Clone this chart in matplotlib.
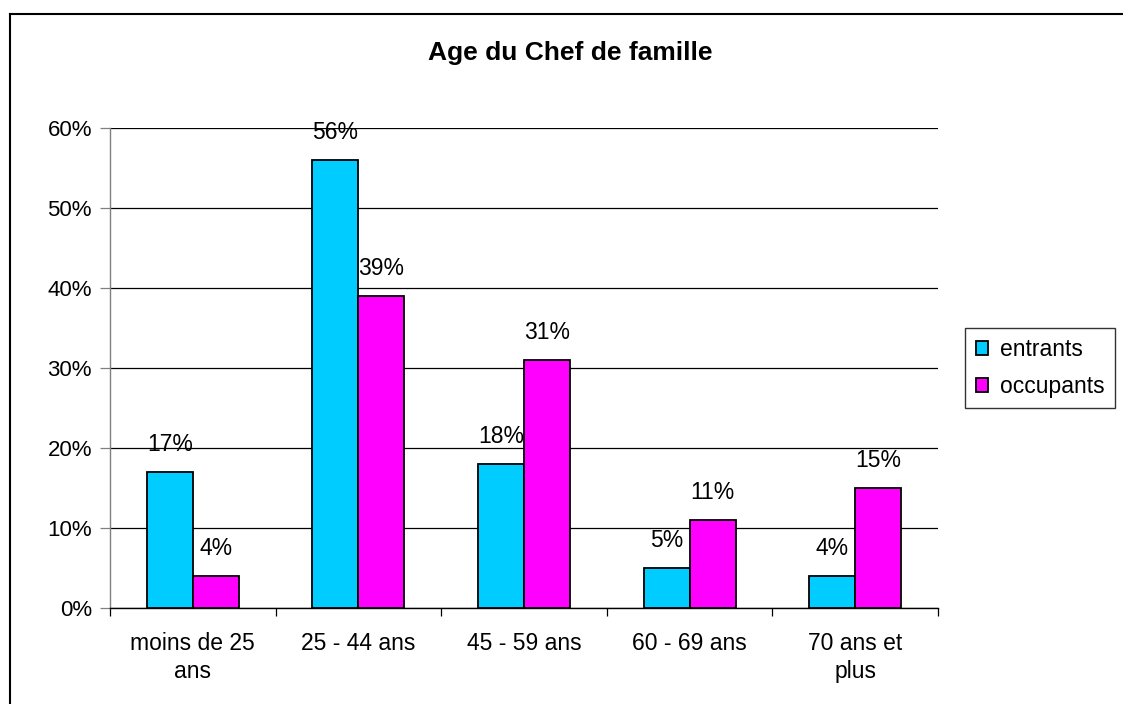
import matplotlib
matplotlib.use('Agg')
from matplotlib import pyplot as plt
from matplotlib.lines import Line2D
import numpy as np

plt.rcParams['font.family'] = ['Liberation Sans', 'DejaVu Sans']

categories = ['moins de 25\nans', '25 - 44 ans', '45 - 59 ans', '60 - 69 ans', '70 ans et\nplus']
entrants = [17, 56, 18, 5, 4]
occupants = [4, 39, 31, 11, 15]
series_names = ['entrants', 'occupants']
colors = ['#00CCFF', '#FF00FF']

fig = plt.figure(figsize=(11.23, 7.04), dpi=100)
ax = fig.add_axes([110 / 1123, 96 / 704, 828 / 1123, 480 / 704])

x = np.arange(len(categories))
w = 0.278
bars = []
for i, (vals, name) in enumerate(zip([entrants, occupants], series_names)):
  b = ax.bar(x + (i - 0.5) * w, vals, w, color=colors[i], edgecolor='black',
             linewidth=1.3, label=name, zorder=3)
  bars.append(b)
  for xi, v in zip(x + (i - 0.5) * w, vals):
    ax.annotate('%d%%' % v, (xi, v), xytext=(0, 19.5), textcoords='offset points',
                ha='center', va='center', fontsize=16.5, zorder=2)

ax.set_xlim(-0.5, len(categories) - 0.5)
ax.set_ylim(0, 60)
ax.set_yticks(np.arange(0, 61, 10))
ax.set_yticklabels(['%d%%' % t for t in range(0, 61, 10)], fontsize=16)
ax.yaxis.grid(True, color='black', linewidth=0.9, zorder=0)
ax.set_axisbelow(True)

ax.set_xticks(x)
ax.set_xticklabels(categories, fontsize=16.5, linespacing=1.3)
ax.set_xticks(np.arange(-0.5, len(categories)), minor=True)
ax.tick_params(axis='x', which='major', length=0, pad=17)
ax.tick_params(axis='x', which='minor', length=6, width=0.9, color='black')
ax.tick_params(axis='y', length=7, width=0.9, color='#808080', pad=6)

for s in ['top', 'right']:
  ax.spines[s].set_visible(False)
ax.spines['left'].set_color('#808080')
ax.spines['left'].set_linewidth(1.0)
ax.spines['bottom'].set_linewidth(1.0)

fig.text(570 / 1123, 1 - 53 / 704, 'Age du Chef de famille', ha='center', va='center',
         fontsize=19, fontweight='bold')

leg = fig.legend(handles=bars, labels=series_names, loc='center',
                 bbox_to_anchor=(1040 / 1123, 1 - 368 / 704), fontsize=16.5,
                 frameon=True, fancybox=False, edgecolor='black',
                 handlelength=0.55, handleheight=0.55, handletextpad=0.5,
                 labelspacing=0.6, borderpad=0.45, borderaxespad=0)
leg.get_frame().set_linewidth(1.0)

# outer chart border (only top and left visible)
fig.add_artist(Line2D([9.5 / 1123, 1], [1 - 14 / 704, 1 - 14 / 704], color='black', linewidth=1.5))
fig.add_artist(Line2D([9.5 / 1123, 9.5 / 1123], [0, 1 - 14 / 704], color='black', linewidth=1.5))

plt.savefig('out.png', dpi=100)
